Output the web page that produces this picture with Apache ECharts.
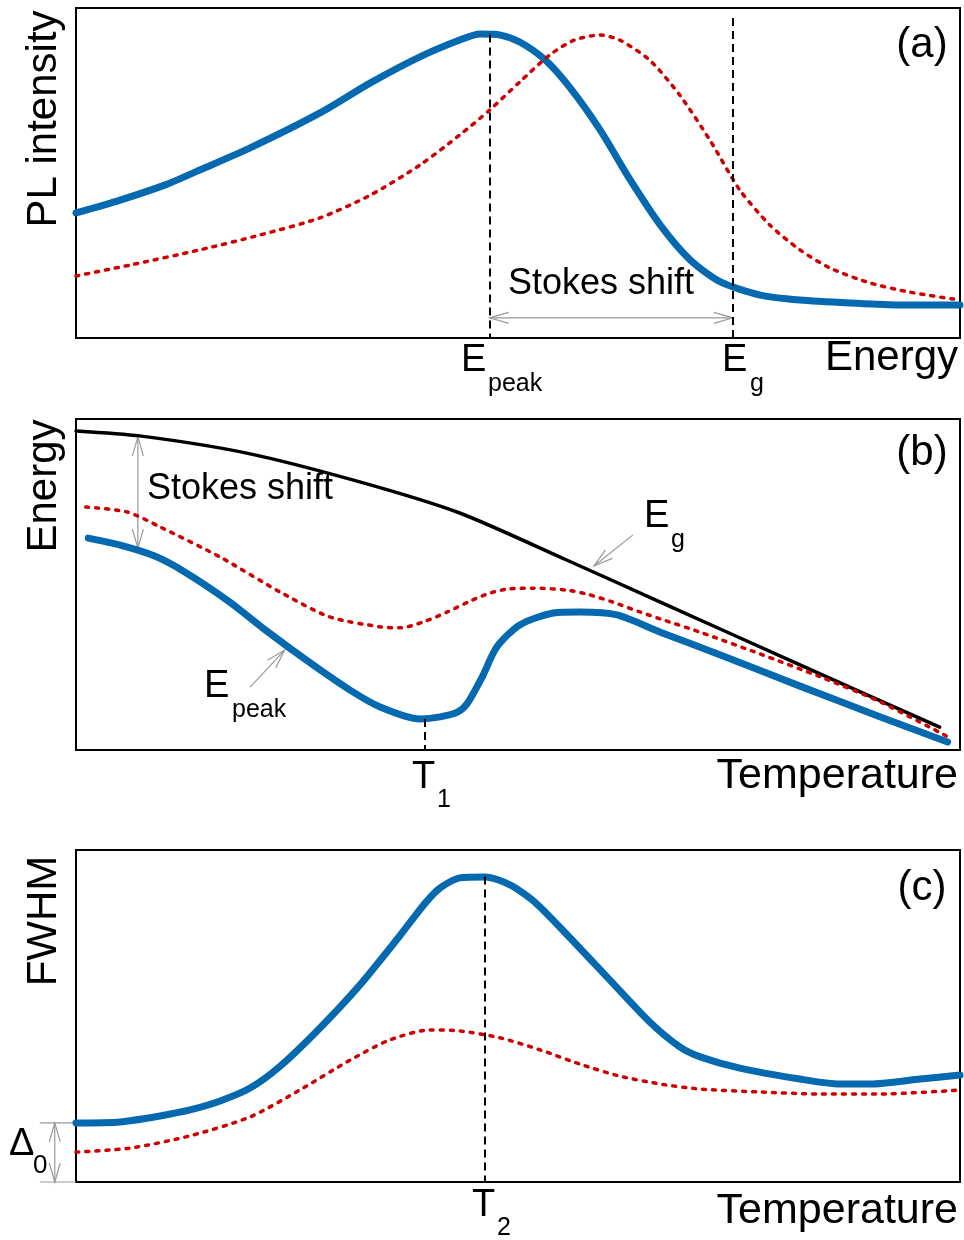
<!DOCTYPE html>
<html>
<head>
<meta charset="utf-8">
<script src="https://cdn.jsdelivr.net/npm/echarts@6/dist/echarts.min.js"></script>
<style>
html,body{margin:0;padding:0;background:#fff;}
#c{width:964px;height:1240px;}
</style>
</head>
<body>
<div id="c"></div>
<script>
// ---- Panel (a): PL intensity vs energy (arbitrary units 0-100) ----
const aBlue = [[0,37.9],[5.0,41.8],[10.1,46.4],[14.0,50.9],[19.7,57.6],[27.6,68.2],[33.3,77.3],[38.9,85.2],[43.4,90.3],[45.7,92.1],[48.0,91.8],[50.2,89.7],[53.1,84.2],[55.9,75.8],[59.3,63.0],[62.7,47.9],[66.1,34.2],[69.5,23.6],[72.9,17.0],[77.4,13.0],[81.9,11.5],[87.6,10.6],[93.2,10.0],[100,10.0]];
const aRed = [[0,18.8],[6.1,22.1],[14.0,26.7],[20.8,31.2],[27.6,36.4],[33.3,43.3],[38.9,52.4],[43.4,61.5],[46.8,69.1],[50.2,77.6],[53.6,85.8],[56.4,90.3],[59.3,91.8],[61.5,90.3],[64.9,84.2],[68.3,73.6],[71.7,60.0],[75.1,44.8],[78.5,34.2],[81.9,26.7],[85.3,21.2],[89.8,16.7],[94.3,13.9],[100,11.5]];
const aGuides = [[46.8,92,0],[74.3,97,0]];           // x, yTop, yBottom
const aArrows = [[46.8,6.1,74.3,6.1,1,1]];            // x1,y1,x2,y2,headStart,headEnd

// ---- Panel (b): energy vs temperature ----
const bBlack = [[0,96.4],[7.2,94.9],[19.3,89.7],[32.1,81.0],[43.4,71.6],[55.5,57.4],[66.1,44.7],[81.9,25.7],[97.7,6.9]];
const bRed = [[1.1,73.4],[5.8,71.9],[9.5,67.4],[16.3,58.3],[23.1,47.7],[28.7,40.2],[34.4,37.2],[36.7,36.9],[39.3,38.7],[42.0,41.7],[44.6,45.0],[46.8,47.4],[48.8,48.6],[51.7,48.9],[55.5,48.3],[57.8,47.1],[60.7,44.7],[63.8,41.7],[66.1,39.6],[70.6,35.6],[77.4,29.0],[84.2,22.1],[91.0,14.5],[98.9,3.6]];
const bBlue = [[1.4,64.0],[5.0,61.9],[8.9,58.6],[12.3,53.8],[17.4,44.7],[21.4,36.3],[26.5,26.3],[31.0,18.1],[34.4,13.0],[38.9,9.4],[41.2,10.0],[43.2,11.5],[44.3,14.2],[45.9,21.8],[47.6,31.1],[50.2,37.8],[54.0,41.4],[57.0,41.7],[61.2,40.8],[66.1,35.6],[72.9,28.7],[81.9,19.3],[91.0,10.0],[98.6,2.4]];
const bGuides = [[39.4,9.4,0]];
const bArrows = [[7.0,94.6,7.0,61.0,1,1],[63.0,65.0,58.6,55.6,0,1],[19.7,19.0,23.6,30.2,0,1]];

// ---- Panel (c): FWHM vs temperature ----
const cBlue = [[0,17.8],[5.0,18.1],[9.5,19.9],[12.9,21.7],[16.3,24.4],[19.7,28.3],[23.1,34.9],[27.6,46.4],[32.1,59.3],[36.7,74.4],[39.5,84.0],[41.2,88.6],[43.4,91.6],[46.3,91.9],[49.1,89.5],[51.9,84.3],[55.9,73.5],[60.4,60.8],[64.9,48.2],[68.3,40.7],[70.6,37.7],[75.1,34.3],[81.9,31.0],[86.4,29.5],[89.8,29.5],[95.5,31.0],[100,32.2]];
const cRed = [[0,9.0],[6.1,10.2],[12.9,13.9],[19.7,19.6],[25.3,27.7],[31.0,36.7],[35.5,42.8],[40.0,45.8],[43.4,45.5],[48.0,43.4],[52.5,39.8],[57.0,35.5],[61.5,31.9],[66.1,29.5],[70.6,28.0],[77.4,27.1],[84.2,26.5],[91.0,26.5],[100,27.7]];
const cGuides = [[46.2,92,0]];
const cArrows = [[-2.4,17.8,-2.4,0,1,1],[-4.1,17.8,0,17.8,0,0],[-4.1,0,0,0,0,0]];

const FONT = '"Liberation Sans", Arial, Helvetica, sans-serif';
const BLUE = '#0569b0', RED = '#cc0000';
const DOT = [3,7];

const chart = echarts.init(document.getElementById('c'), null, {renderer:'canvas'});

const grids = [
  {left:76, top:8, width:884, height:330},
  {left:76, top:419, width:884, height:331},
  {left:76, top:850, width:884, height:332}
].map(g => Object.assign({show:true, borderColor:'#000', borderWidth:2, backgroundColor:'transparent'}, g));

function axis(i){
  return {type:'value', gridIndex:i, min:0, max:100, show:true,
    axisLine:{show:false}, axisTick:{show:false}, axisLabel:{show:false}, splitLine:{show:false}};
}

function guidesML(list){
  return {symbol:'none', silent:true, label:{show:false},
    lineStyle:{type:[8,5], color:'#000', width:2},
    data: list.map(g => [{coord:[g[0], g[1]]},{coord:[g[0], g[2]]}])};
}

function arrowRender(params, api){
  const p1 = api.coord([api.value(0), api.value(1)]);
  const p2 = api.coord([api.value(2), api.value(3)]);
  const hs = api.value(4), he = api.value(5);
  const L = 19, W = 5.5;
  const st = {stroke:'#999', lineWidth:1.2, fill:null};
  const ch = [{type:'line', shape:{x1:p1[0],y1:p1[1],x2:p2[0],y2:p2[1]}, style:st}];
  function head(tip, from){
    let dx = from[0]-tip[0], dy = from[1]-tip[1];
    const len = Math.sqrt(dx*dx+dy*dy) || 1; dx/=len; dy/=len;
    const nx = -dy, ny = dx;
    ch.push({type:'polyline', shape:{points:[[tip[0]+dx*L+nx*W, tip[1]+dy*L+ny*W],[tip[0],tip[1]],[tip[0]+dx*L-nx*W, tip[1]+dy*L-ny*W]]}, style:st});
  }
  if (hs) head(p1, p2);
  if (he) head(p2, p1);
  return {type:'group', children:ch};
}

function lineS(data, i, color, width, type, ml){
  const s = {type:'line', xAxisIndex:i, yAxisIndex:i, data:data, smooth:0.25, symbol:'none', showSymbol:false,
    lineStyle:{color:color, width:width, type:type, cap:'round', join:'round'}, silent:true, animation:false, z:3};
  if (ml) s.markLine = ml;
  return s;
}
function arrowS(data, i){
  return {type:'custom', xAxisIndex:i, yAxisIndex:i, data:data, renderItem:arrowRender, clip:false, silent:true, animation:false, z:2,
    encode:{x:[0,2], y:[1,3]}};
}

function txt(x, y, text, size, align, rot){
  return {type:'text', x:x, y:y, rotation:rot||0, silent:true, z:100,
    style:{text:text, font: size+'px '+FONT, fill:'#000',
      textAlign:align||'left', textVerticalAlign:'middle', align:align||'left', verticalAlign:'middle'}};
}

const graphics = [
  // panel (a)
  txt(44,119,'PL intensity',42,'center',Math.PI/2),
  txt(922,45,'(a)',42,'center'),
  txt(508,284,'Stokes shift',36,'left'),
  txt(958,358,'Energy',42,'right'),
  txt(461,361,'E',38,'left'),
  txt(488,384,'peak',25,'left'),
  txt(722,361,'E',38,'left'),
  txt(750,384,'g',25,'left'),
  // panel (b)
  txt(44,486,'Energy',42,'center',Math.PI/2),
  txt(922,453,'(b)',42,'center'),
  txt(147,489,'Stokes shift',36,'left'),
  txt(644,517,'E',38,'left'),
  txt(671,540,'g',25,'left'),
  txt(204,687,'E',38,'left'),
  txt(232,710,'peak',25,'left'),
  txt(412,778,'T',38,'left'),
  txt(437,800,'1',25,'left'),
  txt(958,776,'Temperature',43,'right'),
  // panel (c)
  txt(44,921,'FWHM',42,'center',Math.PI/2),
  txt(922,888,'(c)',42,'center'),
  txt(472,1206,'T',38,'left'),
  txt(497,1228,'2',25,'left'),
  txt(958,1211,'Temperature',43,'right'),
  txt(9,1145,'\u0394',38,'left'),
  txt(33,1166,'0',26,'left')
];

chart.setOption({
  animation:false,
  backgroundColor:'#fff',
  grid: grids,
  xAxis:[axis(0),axis(1),axis(2)],
  yAxis:[axis(0),axis(1),axis(2)],
  series:[
    lineS(aBlue,0,BLUE,7,'solid',guidesML(aGuides)),
    lineS(aRed,0,RED,3.5,DOT),
    arrowS(aArrows,0),
    lineS(bBlack,1,'#000',3.5,'solid',guidesML(bGuides)),
    lineS(bBlue,1,BLUE,7,'solid'),
    lineS(bRed,1,RED,3.5,DOT),
    arrowS(bArrows,1),
    lineS(cBlue,2,BLUE,7,'solid',guidesML(cGuides)),
    lineS(cRed,2,RED,3.5,DOT),
    arrowS(cArrows,2)
  ],
  graphic: graphics
});
</script>
</body>
</html>
